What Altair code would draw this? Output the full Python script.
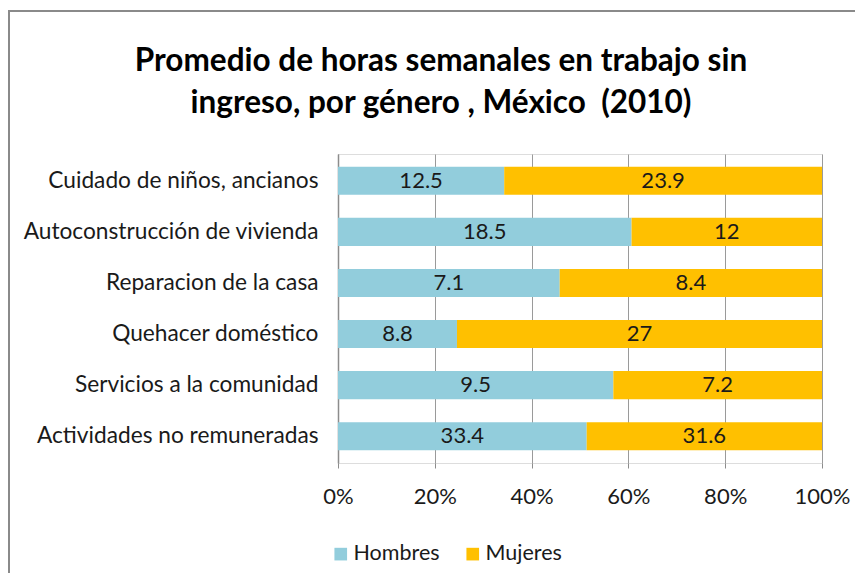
import altair as alt
import pandas as pd

categorias = [
    "Cuidado de niños, ancianos",
    "Autoconstrucción de vivienda",
    "Reparacion de la casa",
    "Quehacer doméstico",
    "Servicios a la comunidad",
    "Actividades no remuneradas",
]
hombres = [12.5, 18.5, 7.1, 8.8, 9.5, 33.4]
mujeres = [23.9, 12, 8.4, 27, 7.2, 31.6]
generos = ["Hombres", "Mujeres"]
colores = ["#92CDDC", "#FFC000"]
ticks_x = [0, 0.2, 0.4, 0.6, 0.8, 1.0]
titulo = "Promedio de horas semanales en trabajo sin\ningreso, por género , México \u00a0(2010)"

rows = []
for i, c in enumerate(categorias):
    rows.append({"cat": c, "genero": generos[0], "valor": hombres[i], "ord": 0})
    rows.append({"cat": c, "genero": generos[1], "valor": mujeres[i], "ord": 1})
df = pd.DataFrame(rows)

FONT = "Lato"
TXT = "#1a1a1a"

base = alt.Chart(df).transform_stack(
    stack="valor", groupby=["cat"], as_=["v0", "v1"], offset="normalize",
    sort=[alt.SortField("ord", order="ascending")]
).transform_calculate(mid="(datum.v0 + datum.v1) / 2")

y_enc = alt.Y("cat:N", sort=categorias, title=None,
              scale=alt.Scale(paddingInner=0.45, paddingOuter=0.25),
              axis=alt.Axis(labelFont=FONT, labelFontSize=22.7, labelColor=TXT,
                            labelPadding=20, ticks=False, domain=True,
                            domainColor="#8c8c8c", domainWidth=1.5, labelLimit=400))

bars = base.mark_bar().encode(
    y=y_enc,
    x=alt.X("v0:Q", title=None,
            scale=alt.Scale(domain=[0, 1], nice=False),
            axis=alt.Axis(values=ticks_x, format=".0%", labelFont=FONT, labelFontSize=22,
                          labelColor=TXT, labelPadding=18, labelFlush=False, domain=False,
                          tickColor="#8c8c8c", tickSize=5, grid=True,
                          gridColor="#9a9a9a", gridWidth=1)),
    x2="v1:Q",
    color=alt.Color("genero:N", scale=alt.Scale(domain=generos, range=colores),
                    legend=alt.Legend(title=None, orient="none", direction="horizontal",
                                      legendX=-8, legendY=389, symbolType="square",
                                      symbolSize=160, symbolStrokeWidth=0,
                                      labelFont=FONT, labelFontSize=21.5,
                                      labelColor=TXT, labelOffset=2,
                                      columnPadding=22)),
)

labels = base.mark_text(font=FONT, fontSize=22, color=TXT).encode(
    y=alt.Y("cat:N", sort=categorias),
    x=alt.X("mid:Q"),
    text=alt.Text("valor:Q"),
)

border = alt.Chart(pd.DataFrame({"a": [0]})).mark_rect(
    fill=None, stroke="#8a8a8a", strokeWidth=2
).encode(
    x=alt.value(-329), x2=alt.value(560), y=alt.value(-143), y2=alt.value(460)
)

title = alt.Chart(pd.DataFrame({"t": [titulo]})).mark_text(
    font=FONT, fontSize=31.5, fontWeight="bold", color="#000000",
    align="center", baseline="alphabetic", lineBreak="\n", lineHeight=42
).encode(
    text="t:N", x=alt.value(103), y=alt.value(-83)
)

chart = alt.layer(border, bars, labels, title).properties(
    width=484, height=309,
    autosize=alt.AutoSizeParams(type="none"),
    padding={"left": 330, "top": 146, "right": 33, "bottom": 110},
).configure_view(stroke=None).configure(background="white")

chart.save("out.html", embed_options={"renderer": "svg", "actions": False})
